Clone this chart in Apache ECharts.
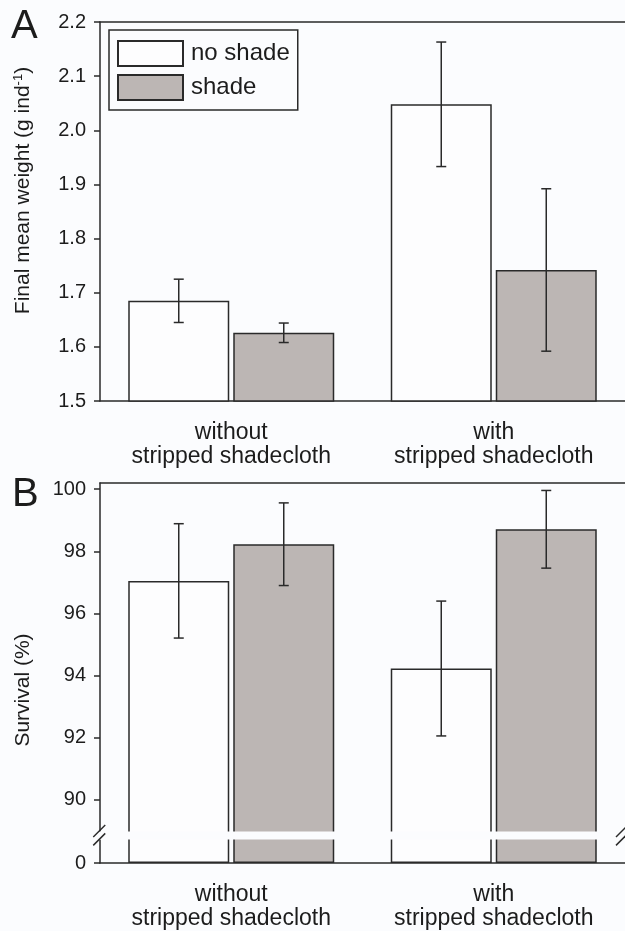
<!DOCTYPE html>
<html>
<head>
<meta charset="utf-8">
<script src="https://cdn.jsdelivr.net/npm/echarts@6/dist/echarts.min.js"></script>
<style>
  html, body { margin: 0; padding: 0; background: #fbfcfe; }
  #chart { width: 625px; height: 931px; }
</style>
</head>
<body>
<div id="chart"></div>
<script>
  const categories = ["without\nstripped shadecloth", "with\nstripped shadecloth"];
  const seriesNames = ["no shade", "shade"];

  const weightNoShade = [1.685, 2.048];
  const weightShade = [1.626, 1.742];
  const weightErrNoShade = [0.040, 0.115];
  const weightErrShade = [0.018, 0.150];
  const weightTicks = [1.5, 1.6, 1.7, 1.8, 1.9, 2.0, 2.1, 2.2];

  const survivalNoShade = [97.05, 94.23];
  const survivalShade = [98.23, 98.71];
  const survivalErrNoShade = [1.84, 2.17];
  const survivalErrShade = [1.33, 1.25];
  const survivalTicks = [0, 90, 92, 94, 96, 98, 100];
  const survivalBreak = [0.76, 89];

  const BG = "#fbfcfe";
  const INK = "#2a2a2a";
  const TEXT = "#1c1c1c";
  const SHADE = "#bcb6b4";
  const FONT = "Liberation Sans, Arial, sans-serif";
  const BAR_W = 101;
  const BAR_GAP = 4;
  const OFFSET = (BAR_W + BAR_GAP) / 2;

  const chart = echarts.init(document.getElementById("chart"), null, { renderer: "canvas" });

  function barSeries(name, values, fill, axis) {
    return {
      type: "bar",
      name: name,
      xAxisIndex: axis,
      yAxisIndex: axis,
      data: values,
      barWidth: BAR_W,
      barGap: (BAR_GAP / BAR_W * 100) + "%",
      itemStyle: { color: fill, borderColor: INK, borderWidth: 1.5 },
      emphasis: { disabled: true },
      z: 2
    };
  }

  function errorSeries(values, errs, side, axis) {
    return {
      type: "custom",
      xAxisIndex: axis,
      yAxisIndex: axis,
      data: values.map((v, i) => [i, v - errs[i], v + errs[i]]),
      renderItem(params, api) {
        const lo = api.coord([api.value(0), api.value(1)]);
        const hi = api.coord([api.value(0), api.value(2)]);
        const x = lo[0] + side * OFFSET;
        const style = { stroke: INK, lineWidth: 1.5 };
        return {
          type: "group",
          children: [
            { type: "line", shape: { x1: x, y1: lo[1], x2: x, y2: hi[1] }, style },
            { type: "line", shape: { x1: x - 5, y1: lo[1], x2: x + 5, y2: lo[1] }, style },
            { type: "line", shape: { x1: x - 5, y1: hi[1], x2: x + 5, y2: hi[1] }, style }
          ]
        };
      },
      z: 5
    };
  }

  const catAxisBase = {
    type: "category",
    data: categories,
    axisLine: { lineStyle: { color: INK, width: 1.5 } },
    axisTick: { alignWithLabel: true, length: 6, lineStyle: { color: INK, width: 1.5 } },
    axisLabel: { color: TEXT, fontFamily: FONT, fontSize: 23, lineHeight: 24, margin: 20 }
  };

  const topFrame = (grid) => ({
    type: "category",
    gridIndex: grid,
    position: "top",
    data: categories,
    axisLine: { lineStyle: { color: INK, width: 1.5 } },
    axisTick: { show: false },
    axisLabel: { show: false }
  });

  const valueAxisBase = {
    type: "value",
    splitLine: { show: false },
    axisLine: { show: true, lineStyle: { color: INK, width: 1.5 } },
    axisTick: { show: true, length: 6, lineStyle: { color: INK, width: 1.5 } },
    nameLocation: "middle",
    nameRotate: 90,
    nameTextStyle: { color: TEXT, fontFamily: FONT, fontSize: 21 }
  };

  chart.setOption({
    backgroundColor: BG,
    animation: false,
    title: [
      { text: "A", left: 11, top: 7, padding: 0, textStyle: { fontFamily: FONT, fontSize: 40, fontWeight: "normal", color: TEXT } },
      { text: "B", left: 12, top: 475, padding: 0, textStyle: { fontFamily: FONT, fontSize: 40, fontWeight: "normal", color: TEXT } }
    ],
    legend: {
      data: seriesNames,
      orient: "vertical",
      left: 109,
      top: 30,
      padding: [10, 8, 9, 8],
      itemWidth: 65,
      itemHeight: 25,
      itemGap: 7,
      borderColor: INK,
      borderWidth: 1.5,
      icon: "rect",
      selectedMode: false,
      textStyle: { color: TEXT, fontFamily: FONT, fontSize: 24, padding: [0, 0, 0, 3] }
    },
    grid: [
      { left: 100, right: -2, top: 22, height: 379 },
      { left: 100, right: -2, top: 483, height: 380 }
    ],
    xAxis: [
      Object.assign({ gridIndex: 0 }, catAxisBase),
      Object.assign({ gridIndex: 1 }, catAxisBase),
      topFrame(0),
      topFrame(1)
    ],
    yAxis: [
      Object.assign({}, valueAxisBase, {
        gridIndex: 0,
        min: 1.5,
        max: 2.2,
        interval: 0.1,
        name: "Final mean weight (g ind{sup|-1})",
        nameGap: 66,
        nameTextStyle: Object.assign({}, valueAxisBase.nameTextStyle, {
          padding: [0, 0, 0, 42],
          rich: { sup: { fontFamily: FONT, fontSize: 13, color: TEXT, padding: [0, 0, 9, 0] } }
        }),
        axisTick: Object.assign({}, valueAxisBase.axisTick, { customValues: weightTicks }),
        axisLabel: {
          customValues: weightTicks,
          color: TEXT, fontFamily: FONT, fontSize: 20, margin: 14,
          formatter: (v) => v.toFixed(1)
        }
      }),
      Object.assign({}, valueAxisBase, {
        gridIndex: 1,
        min: 0,
        max: 100.2,
        interval: 2,
        name: "Survival (%)",
        nameGap: 66,
        nameTextStyle: Object.assign({}, valueAxisBase.nameTextStyle, { padding: [0, 34, 0, 0] }),
        breaks: [{ start: survivalBreak[0], end: survivalBreak[1], gap: "2.2%" }],
        breakArea: {
          show: true,
          itemStyle: { color: BG, borderColor: BG, borderWidth: 0, opacity: 1 },
          zigzagAmplitude: 0,
          expandOnClick: false
        },
        axisTick: Object.assign({}, valueAxisBase.axisTick, { customValues: survivalTicks }),
        axisLabel: {
          customValues: survivalTicks,
          color: TEXT, fontFamily: FONT, fontSize: 20, margin: 14,
          formatter: (v) => String(v)
        }
      })
    ],
    series: [
      barSeries(seriesNames[0], weightNoShade, "#fdfdfe", 0),
      barSeries(seriesNames[1], weightShade, SHADE, 0),
      errorSeries(weightNoShade, weightErrNoShade, -1, 0),
      errorSeries(weightShade, weightErrShade, 1, 0),
      barSeries(seriesNames[0], survivalNoShade, "#fdfdfe", 1),
      barSeries(seriesNames[1], survivalShade, SHADE, 1),
      errorSeries(survivalNoShade, survivalErrNoShade, -1, 1),
      errorSeries(survivalShade, survivalErrShade, 1, 1)
    ]
  });

  // break marks "//" on the left and right axis edges
  const yHi = chart.convertToPixel({ yAxisIndex: 1 }, survivalBreak[1]);
  const yLo = chart.convertToPixel({ yAxisIndex: 1 }, survivalBreak[0]);
  const xLeft = chart.convertToPixel({ xAxisIndex: 1 }, 0) - 132;
  const slash = (x, y) => ({
    type: "line",
    shape: { x1: x - 6, y1: y + 6, x2: x + 6, y2: y - 6 },
    style: { stroke: INK, lineWidth: 1.5 },
    z: 200
  });
  chart.setOption({
    graphic: [
      slash(xLeft, yHi),
      slash(xLeft, yLo),
      slash(622, yHi),
      slash(622, yLo)
    ]
  });
</script>
</body>
</html>
